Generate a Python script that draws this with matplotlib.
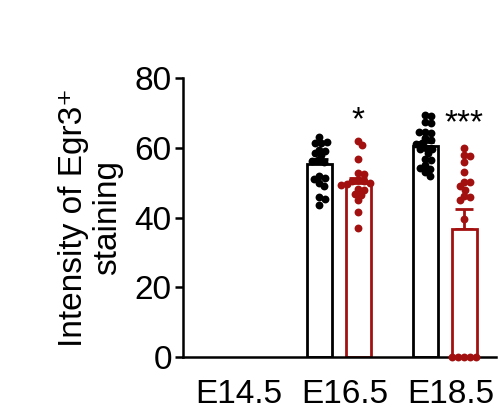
import matplotlib
matplotlib.use("Agg")
import matplotlib.pyplot as plt
import numpy as np

plt.rcParams['font.family'] = ['Liberation Sans', 'DejaVu Sans']

# data
stages = ['E14.5', 'E16.5', 'E18.5']
ctrl_e165 = [63.1, 61.5, 61.3, 61.7, 59.5, 59.2, 58.4, 57.9, 56.4, 56.0, 56.3,
             51.9, 51.2, 51.0, 49.9, 49.0, 45.8, 45.4, 43.5]
mut_e165 = [62.0, 60.7, 56.9, 52.8, 52.4, 50.8, 50.6, 50.4, 49.8, 49.5, 49.3,
            48.3, 48.0, 46.8, 46.5, 45.0, 41.6, 36.9]
ctrl_e185 = [69.3, 69.0, 67.4, 67.0, 64.5, 64.2, 64.4, 62.7, 62.3, 61.3, 61.0,
             60.0, 59.8, 59.6, 58.4, 56.8, 56.5, 55.0, 54.0, 54.1, 53.1, 51.9]
mut_e185 = [60.0, 57.8, 57.6, 56.0, 53.1, 50.3, 50.1, 49.0, 47.9, 46.2, 46.0,
            45.0, 39.7, 0, 0, 0, 0, 0]
bar_means = [55.5, 50.0, 60.5, 36.7]
bar_sem = [1.3, 1.3, 1.2, 5.7]
stars = ['*', '***']

black = 'black'
red = '#A31010'

fig = plt.figure(figsize=(5.01, 4.15), dpi=100)
ax = fig.add_axes([0.365, 0.1398, 0.625, 0.672])

xlim = (-0.526, 2.426)
ylim = (0, 80)
ax.set_xlim(*xlim)
ax.set_ylim(*ylim)

shift = -0.056
half = 0.184
width = 0.239
groups = [(1 + shift - half, ctrl_e165, black),
          (1 + shift + half, mut_e165, red),
          (2 + shift - half, ctrl_e185, black),
          (2 + shift + half, mut_e185, red)]

# pixel scale for swarm layout
axw = 0.625 * 501
axh = 0.672 * 415
px_x = axw / (xlim[1] - xlim[0])
px_y = axh / (ylim[1] - ylim[0])
diam = 5.8


def swarm(values, center):
    placed = []
    xs = []
    for v in values:
        step = 0
        while True:
            cands = [0] if step == 0 else [step, -step]
            ok = None
            for c in cands:
                good = True
                for (px, py) in placed:
                    if (c - px) ** 2 + ((v * px_y) - py) ** 2 < diam ** 2:
                        good = False
                        break
                if good:
                    ok = c
                    break
            if ok is not None:
                placed.append((ok, v * px_y))
                xs.append(center + ok / px_x)
                break
            step += 0.5
    return xs


for i, (xc, vals, col) in enumerate(groups):
    ax.bar(xc, bar_means[i], width=width, color='white', edgecolor=col,
           linewidth=2.0, zorder=2)
    ax.errorbar(xc, bar_means[i], yerr=[[0], [bar_sem[i]]], color=col,
                capsize=6.5, elinewidth=2.0, capthick=2.0, zorder=1)
    ax.scatter(swarm(vals, xc), vals, s=32, color=col, zorder=3,
               linewidths=0, clip_on=False)

ax.text(1 + shift + half, 63.2, stars[0], ha='center', va='bottom', fontsize=24)
ax.text(2 + shift + half, 62.5, stars[1], ha='center', va='bottom', fontsize=24)

ax.set_xticks([0, 1, 2])
ax.set_xticklabels(stages)
ax.set_yticks([0, 20, 40, 60, 80])
ax.tick_params(axis='x', length=0, labelsize=24, pad=16)
ax.tick_params(axis='y', length=6, width=1.8, labelsize=24, pad=2)
ax.set_ylabel('Intensity of Egr3\u207a\nstaining', fontsize=24, linespacing=1.15,
              labelpad=8)

for s in ['top', 'right']:
    ax.spines[s].set_visible(False)
for s in ['left', 'bottom']:
    ax.spines[s].set_linewidth(1.8)

plt.savefig('out.png', dpi=100)
